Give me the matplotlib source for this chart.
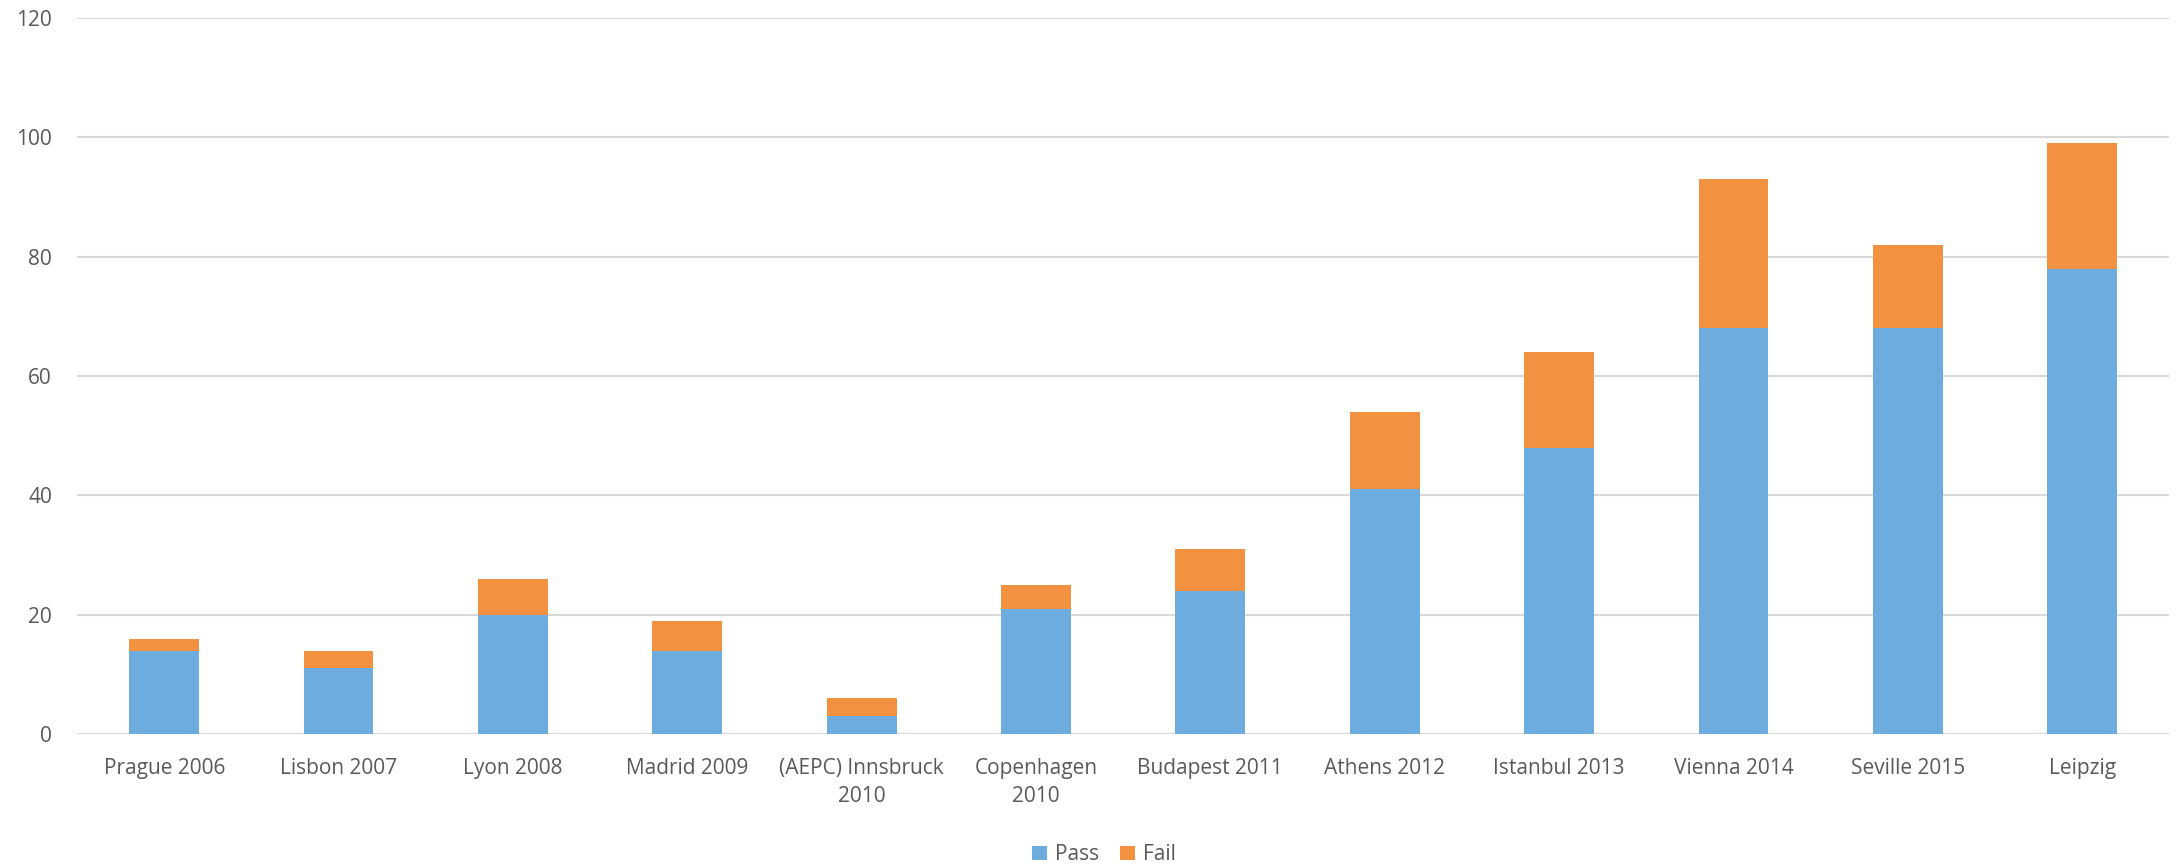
import matplotlib.pyplot as plt
import numpy as np

# Data
venues = ['Prague 2006', 'Lisbon 2007', 'Lyon 2008', 'Madrid 2009',
          '(AEPC) Innsbruck\n2010', 'Copenhagen\n2010', 'Budapest 2011',
          'Athens 2012', 'Istanbul 2013', 'Vienna 2014', 'Seville 2015', 'Leipzig']
passed = [14, 11, 20, 14, 3, 21, 24, 41, 48, 68, 68, 78]
failed = [2, 3, 6, 5, 3, 4, 7, 13, 16, 25, 14, 21]
y_ticks = [0, 20, 40, 60, 80, 100, 120]

blue = '#6DACDE'
orange = '#F29241'
text_grey = '#595959'
grid_grey = '#D9D9D9'

plt.rcParams['font.family'] = ['Open Sans', 'DejaVu Sans']

fig = plt.figure(figsize=(21.78, 8.66), dpi=100)
ax = fig.add_axes([0.0354, 0.1524, 0.9606, 0.8266])

x = np.arange(len(venues))
ax.bar(x, passed, width=0.4, color=blue, label='Pass', zorder=3)
ax.bar(x, failed, width=0.4, bottom=passed, color=orange, label='Fail', zorder=3)

ax.set_xlim(-0.5, len(venues) - 0.5)
ax.set_ylim(0, 120)
ax.set_yticks(y_ticks)
ax.set_xticks(x)
ax.set_xticklabels(venues, linespacing=1.45)

ax.grid(axis='y', color=grid_grey, linewidth=1.5, zorder=0)
for side in ['top', 'right', 'left', 'bottom']:
    ax.spines[side].set_visible(False)
ax.tick_params(axis='both', length=0, labelsize=15, colors=text_grey)
ax.tick_params(axis='x', pad=17)
ax.tick_params(axis='y', pad=18)

fig.legend(loc='center', bbox_to_anchor=(0.507, 0.013), ncol=2, frameon=False,
           fontsize=15, labelcolor=text_grey, handlelength=0.7, handleheight=0.7,
           handletextpad=0.4, columnspacing=1.0)

fig.savefig('out.png', dpi=100)
